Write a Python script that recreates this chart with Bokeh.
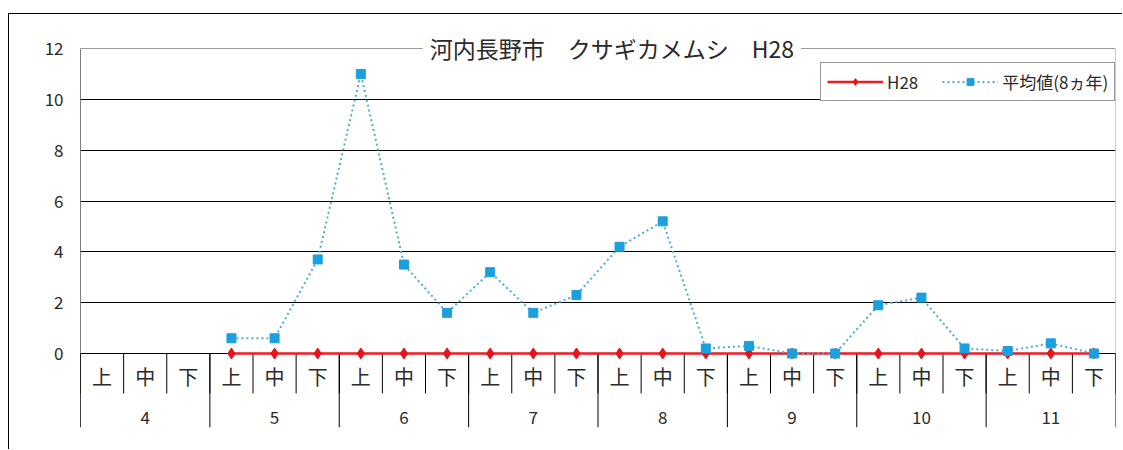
import math
from bokeh.plotting import figure
from bokeh.models import Range1d, FixedTicker, Label, Legend, LegendItem
from bokeh.core.properties import value
from bokeh.embed import file_html
from bokeh.resources import INLINE

NaN = float("nan")

# ---- data ----
months = ["4", "5", "6", "7", "8", "9", "10", "11"]
periods = ["上", "中", "下"]
h28 = [NaN, NaN, NaN,
       0, 0, 0,
       0, 0, 0,
       0, 0, 0,
       0, 0, 0,
       0, 0, 0,
       0, 0, 0,
       0, 0, 0]
avg8 = [NaN, NaN, NaN,
        0.6, 0.6, 3.7,
        11.0, 3.5, 1.6,
        3.2, 1.6, 2.3,
        4.2, 5.2, 0.2,
        0.3, 0.0, 0.0,
        1.9, 2.2, 0.2,
        0.1, 0.4, 0.0]
y_ticks = [0, 2, 4, 6, 8, 10, 12]
title_text = "河内長野市　クサギカメムシ　H28"
series_names = ["H28", "平均値(8ヵ年)"]

FONT = "Noto Sans CJK JP"
TXT = "#2a2a2a"

n = len(months) * len(periods)
xc = [i + 0.5 for i in range(n)]
sub_labels = [periods[i % len(periods)] for i in range(n)]
month_x = [i * len(periods) + len(periods) / 2 for i in range(len(months))]
bounds = list(range(n + 1))
month_bounds = [i * len(periods) for i in range(len(months) + 1)]

Y_MAX = y_ticks[-1]
Y_BOTTOM = -2.91
Y_TOP = 12.826
SUB_Y = -0.9
SEP_Y = -1.57
MONTH_Y = -2.52

p = figure(width=1114, height=436,
           x_range=Range1d(0, n), y_range=Range1d(Y_BOTTOM, Y_TOP),
           output_backend="svg", toolbar_location=None, title=None,
           x_axis_location=None,
           min_border_left=71, min_border_right=8,
           min_border_top=13, min_border_bottom=23)
p.styles = {"margin-top": "13px", "margin-left": "8px",
            "border-top": "1px solid #000", "border-left": "1px solid #000"}
p.outline_line_color = None
p.background_fill_color = "white"
p.border_fill_color = "white"

# y axis (labels only; axis line drawn as a segment from bottom to 12)
p.yaxis.ticker = FixedTicker(ticks=y_ticks)
p.yaxis.major_tick_line_color = None
p.yaxis.minor_tick_line_color = None
p.yaxis.major_tick_out = 0
p.yaxis.major_tick_in = 0
p.yaxis.major_label_standoff = 17
p.yaxis.major_label_text_font = FONT
p.yaxis.major_label_text_font_size = "17px"
p.yaxis.major_label_text_color = TXT
p.yaxis.axis_line_color = None

p.ygrid.ticker = FixedTicker(ticks=[t for t in y_ticks if t < Y_MAX])
p.ygrid.grid_line_color = "black"
p.ygrid.grid_line_width = 1
p.xgrid.visible = False

# plot-area border: gray top and right, black left axis line
p.segment(x0=[0], y0=[Y_MAX], x1=[n], y1=[Y_MAX], line_color="#9a9a9a", line_width=1)
p.segment(x0=[n], y0=[Y_MAX], x1=[n], y1=[0], line_color="#9a9a9a", line_width=1)
p.segment(x0=[0], y0=[Y_MAX], x1=[0], y1=[Y_BOTTOM], line_color="black", line_width=1)

# category separators and labels (below zero line)
p.segment(x0=bounds, y0=[0] * len(bounds), x1=bounds, y1=[SEP_Y] * len(bounds),
          line_color="black", line_width=1)
p.segment(x0=month_bounds, y0=[0] * len(month_bounds), x1=month_bounds,
          y1=[Y_BOTTOM] * len(month_bounds), line_color="black", line_width=1)
p.text(x=xc, y=[SUB_Y] * n, text=sub_labels, text_font=value(FONT),
       text_font_size="20px", text_align="center", text_baseline="middle",
       text_color=TXT)
p.text(x=month_x, y=[MONTH_Y] * len(months), text=months, text_font=value(FONT),
       text_font_size="17px", text_align="center", text_baseline="middle",
       text_color=TXT)

# series
r_l = p.line(xc, h28, line_color="#ec1c24", line_width=2.5)
r_s = p.scatter(xc, h28, marker="diamond", size=11, fill_color="#e3141c",
                line_color="#e3141c")
b_l = p.line(xc, avg8, line_color="#4aaed6", line_width=2, line_dash="2 3")
b_s = p.scatter(xc, avg8, marker="square", size=9, fill_color="#1a9fdf",
                line_color="#1a9fdf")

legend = Legend(items=[LegendItem(label=series_names[0], renderers=[r_l, r_s]),
                       LegendItem(label=series_names[1], renderers=[b_l, b_s])],
                orientation="horizontal", location=(740, 326),
                padding=6, spacing=24, glyph_width=56, glyph_height=17,
                label_height=17, label_standoff=4, margin=0,
                label_text_font=FONT, label_text_font_size="17px",
                label_text_color=TXT, border_line_color="#333333",
                border_line_width=1, background_fill_color="white",
                background_fill_alpha=1)
p.add_layout(legend)

title = Label(x=12.32, y=Y_MAX, text=title_text, text_align="center",
              text_baseline="middle", text_font=FONT, text_font_size="23px",
              text_color=TXT, background_fill_color="white", padding=7)
p.add_layout(title)

open("out.html", "w").write(file_html(p, INLINE))
